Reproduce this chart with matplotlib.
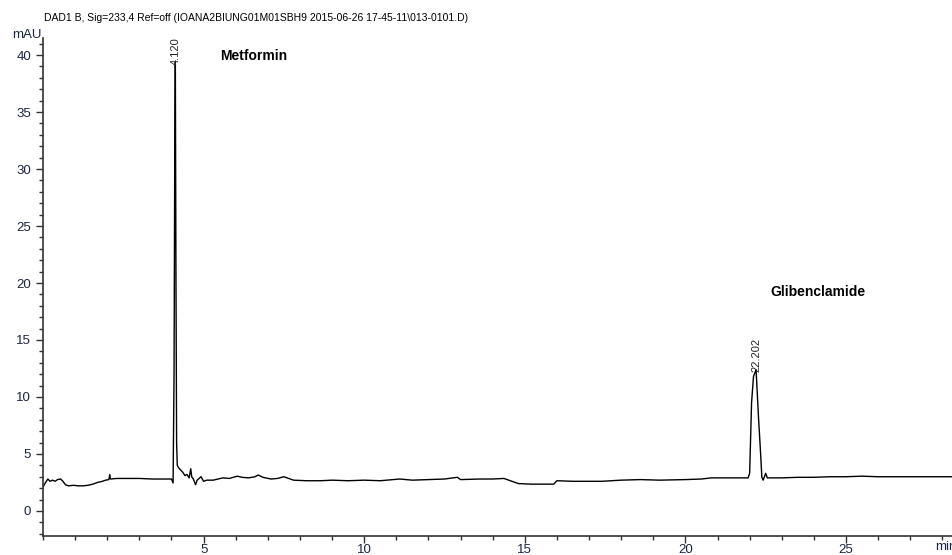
import matplotlib
matplotlib.use('Agg')
import matplotlib.pyplot as plt
from matplotlib.ticker import MultipleLocator

plt.rcParams['font.family'] = ['Liberation Sans', 'DejaVu Sans']

# chromatogram (time in min, signal in mAU)
times = [0.00, 0.08, 0.15, 0.22, 0.30, 0.38, 0.45, 0.55, 0.62, 0.70, 0.80, 0.95,
         1.10, 1.25, 1.40, 1.55, 1.70, 1.85, 1.95, 2.05, 2.08, 2.10, 2.30, 2.60,
         3.00, 3.40, 3.80, 4.00, 4.05, 4.08, 4.10, 4.12, 4.14, 4.16, 4.18, 4.22,
         4.28, 4.35, 4.42, 4.48, 4.55, 4.60, 4.63, 4.68, 4.75, 4.80, 4.88, 4.92,
         5.00, 5.10, 5.30, 5.60, 5.80, 6.05, 6.20, 6.40, 6.60, 6.70, 6.85, 7.10,
         7.30, 7.50, 7.60, 7.80, 8.20, 8.65, 9.00, 9.50, 10.0, 10.5, 11.1, 11.5,
         12.0, 12.5, 12.9, 13.0, 13.6, 14.0, 14.35, 14.6, 14.8, 15.2, 15.6, 15.9,
         16.0, 16.5, 17.0, 17.4, 18.0, 18.6, 19.2, 20.0, 20.5, 20.8, 21.5, 21.95,
         22.00, 22.06, 22.12, 22.20, 22.28, 22.34, 22.38, 22.42, 22.50, 22.55,
         23.0, 23.5, 24.0, 24.5, 25.0, 25.5, 26.0, 27.0, 28.3]
signal = [2.1, 2.5, 2.8, 2.6, 2.7, 2.6, 2.75, 2.8, 2.6, 2.3, 2.2, 2.25,
          2.2, 2.2, 2.25, 2.35, 2.5, 2.6, 2.7, 2.75, 3.2, 2.8, 2.85, 2.85,
          2.85, 2.8, 2.8, 2.8, 2.45, 12.0, 30.0, 39.4, 20.0, 6.0, 4.0, 3.8,
          3.6, 3.4, 3.1, 3.2, 2.9, 3.7, 3.0, 2.8, 2.3, 2.7, 2.9, 3.0,
          2.6, 2.7, 2.7, 2.9, 2.85, 3.05, 2.95, 2.9, 3.0, 3.15, 2.95, 2.8,
          2.85, 3.0, 2.9, 2.7, 2.65, 2.65, 2.7, 2.65, 2.7, 2.65, 2.8, 2.7,
          2.75, 2.8, 2.95, 2.75, 2.8, 2.8, 2.85, 2.6, 2.4, 2.35, 2.35, 2.35,
          2.65, 2.6, 2.6, 2.6, 2.7, 2.75, 2.7, 2.75, 2.8, 2.9, 2.9, 2.9,
          3.3, 9.5, 11.8, 12.4, 8.0, 5.1, 2.95, 2.7, 3.3, 2.9,
          2.9, 2.95, 2.95, 3.0, 3.0, 3.05, 3.0, 3.0, 3.0]

peak_times = [4.120, 22.202]
peak_heights = [39.4, 12.4]
peak_labels = ['4.120', '22.202']

compounds = ['Metformin', 'Glibenclamide']
compound_pos = [(5.5, 39.95), (22.65, 19.2)]

title = 'DAD1 B, Sig=233,4 Ref=off (IOANA2BIUNG01M01SBH9 2015-06-26 17-45-11\\013-0101.D)'
tick_color = '#1c2440'

fig = plt.figure(figsize=(9.52, 5.55), dpi=100)
ax = fig.add_axes([43 / 952, 19 / 555, 909 / 952, 498 / 555])

ax.plot(times, signal, color='black', linewidth=1.0)

ax.set_xlim(0, 28.3)
ax.set_ylim(-2.2, 41.5)

ax.xaxis.set_major_locator(MultipleLocator(5))
ax.xaxis.set_minor_locator(MultipleLocator(1))
ax.yaxis.set_major_locator(MultipleLocator(5))
ax.yaxis.set_minor_locator(MultipleLocator(1))
ax.set_xticks([5, 10, 15, 20, 25])

ax.tick_params(which='major', direction='out', length=5, width=1, labelsize=9.5,
               labelcolor=tick_color, color='#333333')
ax.tick_params(which='minor', direction='out', length=3, width=1, color='#333333')
ax.tick_params(axis='x', which='major', pad=1)

ax.spines['top'].set_visible(False)
ax.spines['right'].set_visible(False)
for s in ['left', 'bottom']:
    ax.spines[s].set_color('#333333')
    ax.spines[s].set_linewidth(1.2)

# peak retention time labels
for t, h, lab in zip(peak_times, peak_heights, peak_labels):
    ax.text(t, h - 0.25, lab, rotation=90, ha='center', va='bottom', fontsize=8,
            color='#222222')

for name, (x, y) in zip(compounds, compound_pos):
    ax.text(x, y, name, fontsize=10, fontweight='bold', ha='left', va='center')

fig.text(44 / 952, 1 - 18 / 555, title, fontsize=7.5, ha='left', va='center')
fig.text(12 / 952, 1 - 35 / 555, 'mAU', fontsize=9.5, ha='left', va='center',
         color=tick_color)
fig.text(935 / 952, 1 - 547 / 555, 'min', fontsize=9.5, ha='left', va='center',
         color=tick_color)

fig.savefig('out.png', dpi=100)
